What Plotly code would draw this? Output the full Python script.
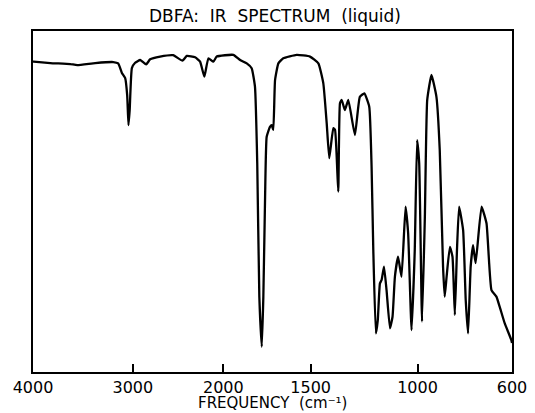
import numpy as np
import plotly.graph_objects as go

# Spectrum: wavenumber (cm^-1) and % transmittance
wavenumber = [4000, 3994, 3827, 3627, 3557, 3377, 3197, 3147, 3110, 3077, 3057, 3044, 3032, 3010,
              2975, 2919, 2853, 2809, 2699, 2555, 2452, 2404, 2312, 2257, 2210, 2165, 2110, 2073,
              1943, 1904, 1866, 1838, 1819, 1806, 1794, 1780, 1771, 1761, 1752, 1733, 1723, 1714,
              1704, 1685, 1657, 1580, 1504, 1464, 1441, 1425, 1413, 1394, 1386, 1371, 1363, 1355,
              1340, 1324, 1293, 1270, 1249, 1226, 1215, 1207, 1195, 1186, 1176, 1168, 1157, 1145,
              1129, 1117, 1106, 1091, 1075, 1056, 1044, 1028, 1013, 1002, 993, 981, 969, 959, 941,
              920, 906, 892, 885, 877, 863, 852, 842, 833, 824, 807, 796, 786, 775, 765, 754, 729,
              708, 687, 666, 652, 631, 603, 600]
transmittance = [91.0, 91.0, 90.6, 90.3, 90.0, 90.6, 90.9, 90.5, 87.7, 86.2, 81.2, 72.4, 76.8, 89.1,
                 90.7, 91.5, 90.2, 91.7, 92.5, 92.9, 91.3, 92.7, 92.3, 91.0, 86.6, 92.0, 91.0, 92.5,
                 93.0, 91.5, 90.5, 89.1, 83.7, 61.3, 22.1, 7.4, 22.1, 51.4, 69.0, 71.9, 72.4, 71.0,
                 85.6, 90.5, 92.0, 93.0, 92.5, 90.5, 84.7, 72.9, 62.7, 71.5, 71.0, 52.9, 78.8, 79.8,
                 76.8, 79.8, 69.5, 80.7, 81.7, 77.8, 60.2, 35.8, 11.3, 15.2, 26.0, 27.0, 30.9, 24.0,
                 12.8, 16.2, 27.9, 33.8, 27.9, 48.5, 40.7, 12.3, 35.8, 68.0, 61.2, 14.8, 45.5, 79.8, 87.1,
                 80.7, 65.1, 30.9, 22.1, 27.9, 36.7, 33.8, 16.7, 35.8, 48.5, 41.6, 21.1, 11.3, 30.9, 37.2, 31.9, 48.5,
                 43.6, 24.0, 22.1, 19.1, 14.3, 9.4, 8.5]

tick_freq = [4000, 3000, 2000, 1500, 1000, 600]
tick_text = ["4000", "3000", "2000", "1500", "1000", "600"]

# Chart-paper frequency scale (non-uniform): fraction of plot width for each tick
tick_frac = [0.0, 0.2085, 0.3974, 0.5797, 0.8028, 1.0]


def freq_scale(f):
    f = np.asarray(f, dtype=float)
    return np.interp(f, tick_freq[::-1], tick_frac[::-1])


fig = go.Figure()
fig.add_trace(go.Scatter(
    x=freq_scale(wavenumber), y=transmittance, mode="lines",
    line=dict(color="black", width=2.3, shape="spline", smoothing=0.4),
    hoverinfo="skip", showlegend=False))

font_family = "DejaVu Sans"
fig.update_layout(
    width=535, height=413,
    margin=dict(l=33, r=23, t=31, b=41, autoexpand=False),
    paper_bgcolor="white", plot_bgcolor="white",
    title=dict(text="DBFA:  IR  SPECTRUM  (liquid)", x=0.514, xanchor="center",
               y=1 - 16 / 413, yanchor="middle", yref="container",
               font=dict(family=font_family, size=17, color="black")),
    xaxis=dict(range=[0, 1], tickvals=freq_scale(tick_freq), ticktext=tick_text,
               ticks="inside", ticklen=8, tickwidth=2, tickcolor="black",
               showline=True, linewidth=2, linecolor="black", mirror=True,
               showgrid=False, zeroline=False, automargin=False,
               tickfont=dict(family=font_family, size=16, color="black")),
    yaxis=dict(range=[0, 100], showticklabels=False, ticks="",
               showline=True, linewidth=2, linecolor="black", mirror=True,
               showgrid=False, zeroline=False, automargin=False),
    annotations=[dict(text="FREQUENCY  (cm\u207b\u00b9)", xref="paper", yref="paper",
                      x=0.5, y=0, xanchor="center", yanchor="bottom", yshift=-41,
                      borderpad=0, showarrow=False,
                      font=dict(family=font_family, size=15, color="black"))],
)

fig.write_html("out.html")
